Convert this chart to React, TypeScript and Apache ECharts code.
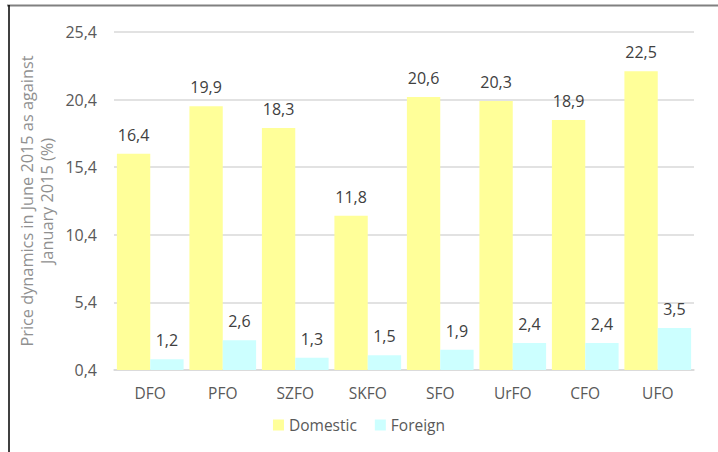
import React, { useEffect, useRef } from "react";
import * as echarts from "echarts";

const categories = ["DFO", "PFO", "SZFO", "SKFO", "SFO", "UrFO", "CFO", "UFO"];
const domestic = [16.4, 19.9, 18.3, 11.8, 20.6, 20.3, 18.9, 22.5];
const foreign = [1.2, 2.6, 1.3, 1.5, 1.9, 2.4, 2.4, 3.5];
const seriesNames = ["Domestic", "Foreign"];
const yAxisName = "Price dynamics in June 2015 as against\nJanuary 2015 (%)";

const FONT = "'Open Sans', 'Noto Sans', sans-serif";
const fmt = (v: number) => v.toFixed(1).replace(".", ",");

export default function App() {
  const ref = useRef<HTMLDivElement>(null);
  useEffect(() => {
    if (!ref.current) return;
    const chart = echarts.init(ref.current, null, { renderer: "svg" });
    const label = {
      show: true,
      position: "top" as const,
      distance: 11,
      color: "#404040",
      fontSize: 16,
      fontFamily: FONT,
      formatter: (p: any) => fmt(p.value),
    };
    chart.setOption({
      animation: false,
      backgroundColor: "#ffffff",
      textStyle: { fontFamily: FONT },
      grid: { left: 114, right: 24, top: 32, bottom: 82 },
      legend: {
        data: seriesNames,
        top: 412,
        left: "center",
        itemWidth: 11,
        itemHeight: 11,
        itemGap: 18,
        icon: "rect",
        textStyle: { color: "#595959", fontSize: 15.5, fontFamily: FONT },
      },
      xAxis: {
        type: "category",
        data: categories,
        axisTick: { show: false },
        axisLine: { lineStyle: { color: "#d9d9d9", width: 1.5 } },
        axisLabel: { color: "#595959", fontSize: 15.5, fontFamily: FONT, margin: 15 },
      },
      yAxis: {
        type: "value",
        min: 0.4,
        max: 25.4,
        interval: 5,
        axisLine: { show: false },
        axisTick: { show: false },
        splitLine: { lineStyle: { color: "#d9d9d9", width: 1.5 } },
        axisLabel: {
          color: "#595959",
          fontSize: 16,
          fontFamily: FONT,
          margin: 17,
          formatter: (v: number) => fmt(v),
        },
      },
      series: [
        {
          name: seriesNames[0],
          type: "bar",
          data: domestic,
          barGap: "0%",
          barCategoryGap: "8%",
          clip: true,
          itemStyle: { color: "#ffff99" },
          label,
        },
        {
          name: seriesNames[1],
          type: "bar",
          data: foreign,
          barGap: "0%",
          barCategoryGap: "8%",
          clip: true,
          itemStyle: { color: "#ccffff" },
          label,
        },
      ],
      graphic: [
        {
          type: "text",
          x: 37,
          y: 201,
          rotation: Math.PI / 2,
          style: {
            text: yAxisName,
            align: "center",
            verticalAlign: "middle",
            fill: "#909090",
            fontSize: 16.3,
            fontFamily: FONT,
            lineHeight: 20,
          },
        },
        {
          type: "line",
          shape: { x1: 7, y1: 5.5, x2: 718, y2: 5.5 },
          style: { stroke: "#808080", lineWidth: 2 },
          z: 100,
        },
        {
          type: "line",
          shape: { x1: 9, y1: 5, x2: 9, y2: 452 },
          style: { stroke: "#000000", lineWidth: 1.5 },
          z: 100,
        },
      ],
    });
    return () => chart.dispose();
  }, []);
  return (
    <div
      ref={ref}
      style={{ position: "fixed", left: 0, top: 0, width: 718, height: 452 }}
    />
  );
}
